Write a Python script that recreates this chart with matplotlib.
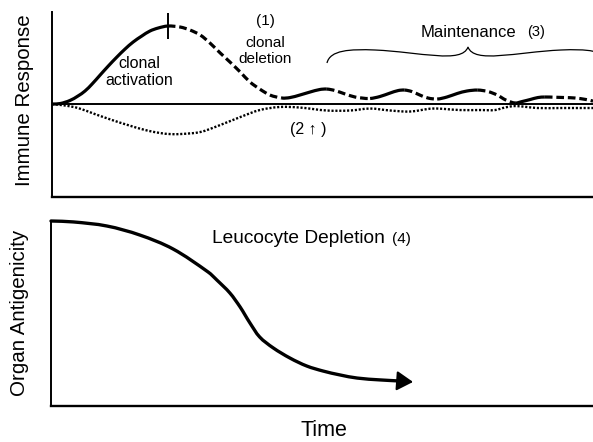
import numpy as np
import matplotlib
matplotlib.use('Agg')
import matplotlib.pyplot as plt
from matplotlib.path import Path
from matplotlib.patches import PathPatch, FancyArrowPatch
import matplotlib.transforms as mtransforms

W, H, DPI = 593, 442, 100
plt.rcParams['font.family'] = ['Liberation Sans', 'DejaVu Sans']

# ---------------- data (arbitrary units) ----------------
# Immune response (solid when rising = activation, dashed when falling = deletion)
resp_time = [0, 1.5, 3.3, 4.8, 6.1, 7.4, 8.9, 10.4, 12.0, 13.5, 15.0, 16.6, 18.1, 19.6, 21.4,
             23.7, 25.5, 27.4, 29.2, 31.1, 32.9, 34.8, 36.6, 38.4, 40.3, 42.5,
             44.0, 45.8, 47.7, 49.5, 50.8,
             52.3, 54.2, 56.0, 57.3, 58.8,
             60.6, 62.5, 64.0, 65.2,
             66.5, 68.0, 69.5, 71.2,
             73.0, 74.9, 76.7, 78.7,
             80.6, 82.3, 83.9, 85.6,
             86.9, 88.4, 89.8, 91.1,
             92.9, 94.8, 96.7, 98.7, 100]
resp_value = [0, 0.06, 0.45, 1.03, 1.67, 2.56, 3.72, 4.87, 6.03, 7.05, 7.95, 8.72, 9.36, 9.74, 10.0,
              9.87, 9.49, 8.85, 7.82, 6.54, 5.38, 4.10, 2.82, 1.92, 1.15, 0.77,
              0.83, 1.15, 1.54, 1.86, 1.92,
              1.73, 1.28, 0.90, 0.77, 0.71,
              0.96, 1.41, 1.73, 1.79,
              1.60, 1.15, 0.77, 0.64,
              0.90, 1.35, 1.67, 1.79,
              1.60, 1.15, 0.51, 0.13,
              0.32, 0.58, 0.83, 0.90,
              0.87, 0.83, 0.77, 0.58, 0.38]

# Suppressor / tolerance response (dotted)
tol_time = [0, 2.4, 4.8, 7.9, 11.1, 14.0, 17.2, 20.0, 21.8, 23.7, 27.4, 31.1, 34.8, 38.4, 42.1,
            45.8, 50.8, 55.1, 58.8, 62.5, 66.2, 70.4, 75.4, 79.1, 81.9, 83.7, 85.6, 89.8, 93.9, 100]
tol_value = [0, -0.19, -0.51, -1.28, -2.05, -2.69, -3.33, -3.72, -3.85, -3.85, -3.59, -2.69, -1.67,
             -0.77, -0.38, -0.45, -0.83, -0.83, -0.58, -0.83, -0.96, -0.58, -0.77, -0.77, -0.77,
             -0.45, -0.26, -0.51, -0.51, -0.51]

# Organ antigenicity (leucocyte depletion); last point is the arrow tip
antig_time = [0, 4.1, 10.3, 16.4, 22.5, 29.0, 30.6, 33.0, 34.9, 35.8, 36.7, 38.5, 41.0, 44.1,
              47.2, 50.2, 53.3, 56.5, 60.7, 64.4, 66.8]
antig_value = [10.0, 9.95, 9.73, 9.24, 8.49, 7.24, 6.81, 6.11, 5.35, 4.92, 4.49, 3.73, 3.14, 2.59,
               2.16, 1.89, 1.68, 1.51, 1.41, 1.35, 1.30]

# ---------------- figure ----------------
fig = plt.figure(figsize=(W / DPI, H / DPI), dpi=DPI)
pix = mtransforms.Affine2D().scale(1, -1).translate(0, H)  # reference-image pixel coords


def box(l, t, r, b):
    return [l / W, 1 - b / H, (r - l) / W, (b - t) / H]


def smooth_path(ax, x, y, a=0, b=None):
    """Smooth (chord-length Hermite) curve through points a..b, as a data-space Bezier path."""
    D = ax.transData.transform(np.column_stack([x, y]).astype(float))
    n = len(D)
    if b is None:
        b = n - 1
    tang = np.zeros_like(D)
    for i in range(n):
        p0 = D[max(i - 1, 0)]
        p2 = D[min(i + 1, n - 1)]
        d = p2 - p0
        tang[i] = d / (np.hypot(*d) or 1)
    verts = [D[a]]
    codes = [Path.MOVETO]
    for i in range(a, b):
        p1, p2 = D[i], D[i + 1]
        L = np.hypot(*(p2 - p1)) / 3
        verts += [p1 + tang[i] * L, p2 - tang[i + 1] * L, p2]
        codes += [Path.CURVE4] * 3
    verts = ax.transData.inverted().transform(np.array(verts))
    return Path(verts, codes)


ax1 = fig.add_axes(box(52, 12, 593, 197))
ax2 = fig.add_axes(box(51, 221, 593, 406))
for ax in (ax1, ax2):
    ax.spines[['top', 'right']].set_visible(False)
    ax.spines['left'].set_linewidth(1.4)
    ax.spines['bottom'].set_linewidth(1.7)
    ax.set_xticks([])
    ax.set_yticks([])
    ax.patch.set_alpha(0)
ax1.set_xlim(0, 100)
ax1.set_ylim(-11.92, 11.8)
ax2.set_xlim(0, 100)
ax2.set_ylim(0, 10)

# baseline
ax1.axhline(0, color='k', lw=1.4)

# immune response, styled by direction
t = np.array(resp_time)
v = np.array(resp_value)
rising = np.diff(v) > 0
start = 0
for i in range(1, len(rising) + 1):
    if i == len(rising) or rising[i] != rising[start]:
        ax1.add_patch(PathPatch(smooth_path(ax1, t, v, start, i), transform=ax1.transData,
                                fill=False, edgecolor='k', lw=2.3,
                                linestyle='-' if rising[start] else (0, (2.4, 1.2)),
                                capstyle='butt', joinstyle='round', clip_on=False))
        start = i
ipk = int(np.argmax(v))
ax1.plot(t[ipk], v[ipk], marker='|', ms=19, mew=1.4, color='k')

# dotted response
ax1.add_patch(PathPatch(smooth_path(ax1, tol_time, tol_value), transform=ax1.transData,
                        fill=False, edgecolor='k', lw=1.7, linestyle=(0, (0.9, 0.75)),
                        capstyle='butt'))

# antigenicity curve with arrow
ax2.add_patch(PathPatch(smooth_path(ax2, antig_time, antig_value, 0, len(antig_time) - 2),
                        transform=ax2.transData, fill=False, edgecolor='k', lw=2.4,
                        capstyle='round', clip_on=False))
ax2.add_patch(FancyArrowPatch((antig_time[-2], antig_value[-2]), (antig_time[-1], antig_value[-1]),
                              arrowstyle='-|>,head_length=0.5,head_width=0.3',
                              mutation_scale=20, color='k', lw=1.5, shrinkA=0, shrinkB=0))

# brace over maintenance phase
verts = [(327, 63), (330, 50), (350, 49), (375, 50),
         (420, 52), (462, 64), (468, 47),
         (474, 64), (516, 52), (561, 50),
         (586, 49), (606, 50), (609, 63)]
codes = [Path.MOVETO] + [Path.CURVE4] * 12
fig.patches.append(PathPatch(Path(verts, codes), transform=pix, fill=False, lw=0.9,
                             edgecolor='k', figure=fig))

# texts
def txt(x, y, s, size, ha='center', va='baseline', **kw):
    fig.text(x, y, s, transform=pix, fontsize=size, ha=ha, va=va, **kw)

txt(139.5, 68, 'clonal', 11.5)
txt(139.5, 85, 'activation', 11.5)
txt(265, 25, '(1)', 11)
txt(265, 47, 'clonal', 11)
txt(265, 63, 'deletion', 11)
txt(421, 37, 'Maintenance', 12, ha='left')
txt(527, 36, '(3)', 10.5, ha='left')
txt(290, 134, '(2 \u2191 )', 11.5, ha='left')
txt(212, 243, 'Leucocyte Depletion', 13.8, ha='left')
txt(392, 243, '(4)', 11, ha='left')
txt(324, 430, 'Time', 15.5, va='center')
txt(25, 100, 'Immune Response', 14.8, va='center', rotation=90)
txt(20, 313, 'Organ Antigenicity', 14.8, va='center', rotation=90)

fig.savefig('out.png', dpi=DPI)
